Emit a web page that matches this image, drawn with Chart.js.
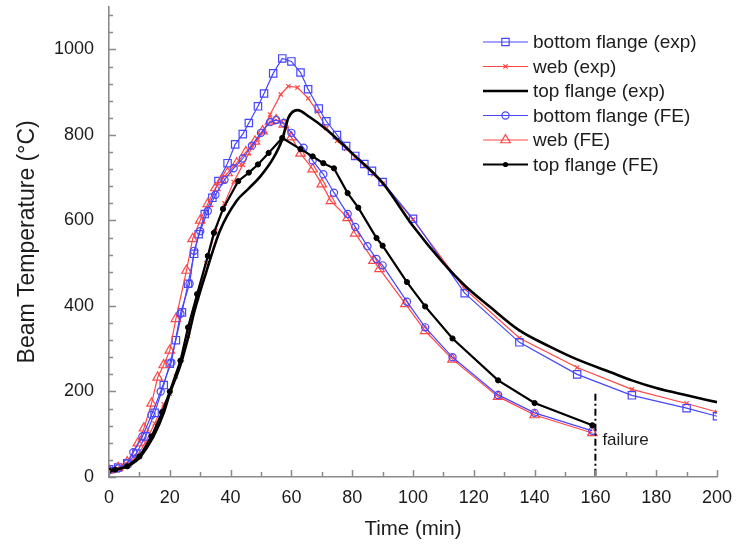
<!DOCTYPE html>
<html><head><meta charset="utf-8">
<script src="https://cdn.jsdelivr.net/npm/chart.js@4/dist/chart.umd.min.js"></script>
<style>html,body{margin:0;padding:0;background:#fff;}</style>
</head><body>
<canvas id="c" width="736" height="554"></canvas>
<script>
// ---- data (time in min, temperature in °C) ----
const bfExpTime = [0,3,6,9,12,15,18,20,22,24,26,28,29.5,31.5,34,36,39,41.5,44,46,49,51,54,57,60,63,65.5,69,71.5,75,78,81,84,86.5,90,100,117,135,154,172,190,200];
const bfExpTemp = [18,22,32,55,95,150,215,265,320,385,452,522,568,615,653,692,734,778,802,828,867,897,944,979,972,946,907,862,832,800,774,751,732,716,690,604,430,315,240,191,161,142];

const webExpTime = [0,3,6,9,12,15,18,20,22,24,26,29,32,35,38,41,44,47,49,51,53,56.5,59,62,65.5,68.5,71.5,75,78,81,84,87,90,100,117,135,154,172,190,200];
const webExpTemp = [15,18,28,48,80,125,170,195,235,275,330,420,500,575,640,690,730,770,790,809,848,895,914,911,886,855,816,786,768,748,728,708,686,602,440,325,256,205,172,152];

const topExpTime = [0,5,10,15,18,20,23.5,26,28,32,36.5,42,46,50,54,57,59,62,66,72,80,90,100,110,117,125,135,145,154,165,172,180,190,200];
const topExpTemp = [15,22,45,100,150,195,262,325,385,480,576,646,675,705,745,790,840,858,842,810,757,688,587,500,448,400,343,305,275,245,226,208,191,175];

const bfFeTime = [0,3,6,8,11,14,17,20.5,23.5,26.5,28,30,32.5,35,38,41,44,47,50,53,55,57.5,60,64,67,70.5,74,78.5,81,85,88,90,98,104,113,128,140,159];
const bfFeTemp = [16,20,32,58,95,145,200,268,382,452,529,575,622,660,695,722,745,775,805,830,835,828,805,770,740,708,665,615,585,540,510,495,410,350,280,192,150,108];

const webFeTime = [0,3,6,9.5,11.5,14,16,18,20,22,25.5,27.5,30,32.5,35,37,39,42,45,48,50.5,53,55,57.5,60,63,67,70,73,78.5,81,87,89,97.5,104,113,128,140,159];
const webFeTemp = [16,22,35,79,114,172,233,262,296,370,483,557,600,639,676,695,711,734,760,785,809,832,835,825,795,757,720,685,646,606,570,506,487,405,342,275,188,145,103];

const topFeTime = [0,2,6,10,14,17.5,20,23.5,26,29,32.5,34.5,37.5,42.5,46,49,52.5,57,63,67,70.5,74,78.5,82,88,90,98,104,113,128,140,159];
const topFeTemp = [15,17,25,48,95,152,200,272,350,428,517,571,627,692,712,731,758,793,767,750,734,722,664,630,559,541,456,399,324,226,173,121];

const failureTime = [160,160];
const failureTemp = [195,0];
const failureLabel = 'failure';

const xTickLabels = [0,20,40,60,80,100,120,140,160,180,200];
const yTickLabels = [0,200,400,600,800,1000];

const seriesLabels = ['bottom flange (exp)','web (exp)','top flange (exp)','bottom flange (FE)','web (FE)','top flange (FE)'];

// ---- styles ----
const BLUE = 'rgb(70,70,255)';
const RED = 'rgb(255,70,70)';
const BLACK = '#000';
const AXIS = '#8a8a8a';
const FONT = "'Liberation Sans', Arial, Helvetica, sans-serif";
const TXT = '#1c1c1c';

const zip = (t, v) => t.map((x, i) => ({x, y: v[i]}));

const datasets = [
  {label: seriesLabels[2], data: zip(topExpTime, topExpTemp), borderColor: BLACK, borderWidth: 2.6, pointRadius: 0, cubicInterpolationMode: 'monotone', order: 0, mk: 'none'},
  {label: seriesLabels[5], data: zip(topFeTime, topFeTemp), borderColor: BLACK, backgroundColor: BLACK, borderWidth: 2.2, pointRadius: 2.6, pointStyle: 'circle', pointBorderWidth: 1, order: 0, mk: 'dot'},
  {label: seriesLabels[0], data: zip(bfExpTime, bfExpTemp), borderColor: BLUE, backgroundColor: 'rgba(0,0,0,0)', borderWidth: 1.2, pointRadius: 5.2, pointStyle: 'rect', pointBorderWidth: 1.2, order: 2, mk: 'rect'},
  {label: seriesLabels[1], data: zip(webExpTime, webExpTemp), borderColor: RED, backgroundColor: 'rgba(0,0,0,0)', borderWidth: 1.2, pointRadius: 3, pointStyle: 'crossRot', pointBorderWidth: 1.2, order: 2, mk: 'crossRot'},
  {label: seriesLabels[3], data: zip(bfFeTime, bfFeTemp), borderColor: BLUE, backgroundColor: 'rgba(0,0,0,0)', borderWidth: 1.2, pointRadius: 3.6, pointStyle: 'circle', pointBorderWidth: 1.2, order: 1, mk: 'circle'},
  {label: seriesLabels[4], data: zip(webFeTime, webFeTemp), borderColor: RED, backgroundColor: 'rgba(0,0,0,0)', borderWidth: 1.2, pointRadius: 5.5, pointStyle: 'triangle', pointBorderWidth: 1.2, order: 1, mk: 'triangle'},
  {label: failureLabel, data: zip(failureTime, failureTemp), borderColor: BLACK, borderWidth: 2, borderDash: [7,3,2,3], pointRadius: 0, order: 0, mk: 'skip'}
];
datasets.forEach(d => { d.fill = false; d.tension = 0; });

function drawMarker(ctx, mk, x, y, color) {
  ctx.save();
  ctx.strokeStyle = color; ctx.fillStyle = color; ctx.lineWidth = 1.2;
  ctx.beginPath();
  if (mk === 'rect') { const s = 5.2 * Math.SQRT1_2; ctx.rect(x - s, y - s, 2*s, 2*s); ctx.stroke(); }
  else if (mk === 'circle') { ctx.arc(x, y, 3.6, 0, Math.PI*2); ctx.stroke(); }
  else if (mk === 'dot') { ctx.arc(x, y, 2.6, 0, Math.PI*2); ctx.fill(); }
  else if (mk === 'crossRot') { const r = 3*Math.SQRT1_2; ctx.moveTo(x-r,y-r); ctx.lineTo(x+r,y+r); ctx.moveTo(x+r,y-r); ctx.lineTo(x-r,y+r); ctx.stroke(); }
  else if (mk === 'triangle') { const r = 5.5; ctx.moveTo(x, y - r); ctx.lineTo(x + r*Math.sin(Math.PI/3), y + r*0.5); ctx.lineTo(x - r*Math.sin(Math.PI/3), y + r*0.5); ctx.closePath(); ctx.stroke(); }
  ctx.restore();
}

const extrasPlugin = {
  id: 'extras',
  afterDraw(chart) {
    const {ctx, chartArea: a} = chart;
    const xs = chart.scales.x, ys = chart.scales.y;
    // inward ticks
    ctx.save();
    ctx.strokeStyle = AXIS; ctx.lineWidth = 1.5;
    ctx.beginPath();
    for (let v = 0; v <= 200; v += 10) {
      const px = Math.round(xs.getPixelForValue(v)) + 0.5;
      const len = v % 20 === 0 ? 7 : 5;
      ctx.moveTo(px, a.bottom); ctx.lineTo(px, a.bottom - len);
    }
    for (let v = 0; v <= 1080; v += 40) {
      const py = Math.round(ys.getPixelForValue(v)) + 0.5;
      const len = v % 200 === 0 ? 7 : 4;
      ctx.moveTo(a.left, py); ctx.lineTo(a.left + len, py);
    }
    ctx.stroke();
    ctx.restore();

    // failure label
    ctx.save();
    ctx.fillStyle = TXT; ctx.font = '17px ' + FONT; ctx.textBaseline = 'middle'; ctx.textAlign = 'left';
    ctx.fillText(failureLabel, xs.getPixelForValue(failureTime[0]) + 7, ys.getPixelForValue(85));
    ctx.restore();

    // legend
    const order = [2,3,0,4,5,1];
    const lx0 = 483, lx1 = 528, tx = 533, y0 = 42, dy = 24.5;
    ctx.save();
    ctx.font = '19px ' + FONT; ctx.textBaseline = 'middle'; ctx.fillStyle = TXT;
    order.forEach((di, i) => {
      const d = datasets[di];
      const y = y0 + i * dy;
      ctx.strokeStyle = d.borderColor; ctx.lineWidth = d.borderWidth;
      ctx.beginPath(); ctx.moveTo(lx0, y); ctx.lineTo(lx1, y); ctx.stroke();
      drawMarker(ctx, d.mk, (lx0 + lx1) / 2, y, d.borderColor);
      ctx.fillStyle = TXT;
      ctx.fillText(d.label, tx, y + 1);
    });
    ctx.restore();
  }
};

new Chart(document.getElementById('c'), {
  type: 'line',
  data: {datasets},
  options: {
    responsive: false,
    animation: false,
    devicePixelRatio: 1,
    events: [],
    layout: {padding: {left: 0, top: 5, right: 19, bottom: 0}},
    plugins: {legend: {display: false}, tooltip: {enabled: false}},
    scales: {
      x: {
        type: 'linear', min: 0, max: 200,
        afterFit: s => { s.height = 77; s.paddingRight = 0; s.paddingLeft = 0; },
        afterBuildTicks: s => { s.ticks = xTickLabels.map(v => ({value: v})); },
        grid: {display: false, drawTicks: false},
        border: {display: true, color: AXIS, width: 1.6},
        ticks: {padding: 10, color: TXT, font: {family: FONT, size: 18}, maxRotation: 0, autoSkip: false, callback: v => String(v)},
        title: {display: true, text: 'Time (min)', color: TXT, font: {family: FONT, size: 20.5}, padding: {top: 0, bottom: 12}}
      },
      y: {
        type: 'linear', min: 0, max: 1100,
        afterFit: s => { s.width = 109; s.paddingTop = 0; s.paddingBottom = 0; },
        afterBuildTicks: s => { s.ticks = yTickLabels.map(v => ({value: v})); },
        grid: {display: false, drawTicks: false},
        border: {display: true, color: AXIS, width: 1.6},
        ticks: {padding: 15, color: TXT, font: {family: FONT, size: 18}, autoSkip: false, callback: v => String(v)},
        title: {display: true, text: 'Beam Temperature (°C)', color: TXT, font: {family: FONT, size: 23}, padding: {top: 14, bottom: 0}}
      }
    }
  },
  plugins: [extrasPlugin]
});
</script>
</body></html>
